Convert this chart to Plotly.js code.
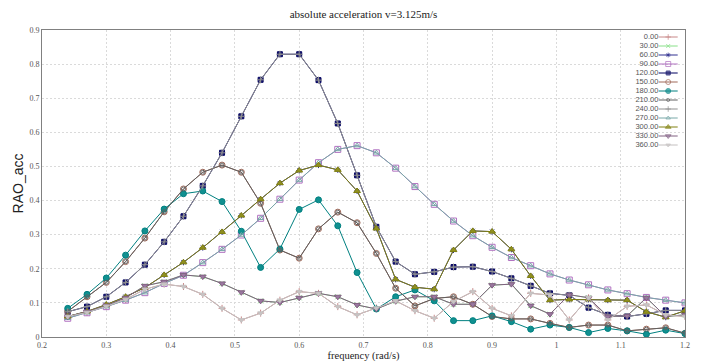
<!DOCTYPE html>
<html><head><meta charset="utf-8">
<script src="https://cdn.plot.ly/plotly-3.0.1.min.js"></script>
<style>html,body{margin:0;padding:0;background:#fff}#chart{width:701px;height:363px}</style>
</head><body><div id="chart"></div>
<script>
// frequency (rad/s)
const frequency = [0.24,0.27,0.30,0.33,0.36,0.39,0.42,0.45,0.48,0.51,0.54,0.57,0.60,0.63,0.66,0.69,0.72,0.75,0.78,0.81,0.84,0.87,0.90,0.93,0.96,0.99,1.02,1.05,1.08,1.11,1.14,1.17,1.20];

// heading labels (legend)
const headingLabels = ['0.00','30.00','60.00','90.00','120.00','150.00','180.00','210.00','240.00','270.00','300.00','330.00','360.00'];

// RAO values (symmetric headings share the same response)
const rao_000_360 = [0.060,0.072,0.090,0.110,0.140,0.155,0.148,0.125,0.084,0.050,0.070,0.108,0.133,0.128,0.089,0.065,0.085,0.106,0.077,0.055,0.104,0.133,0.084,0.062,0.128,0.123,0.050,0.115,0.050,0.090,0.094,0.065,0.060];
const rao_030_330 = [0.060,0.074,0.092,0.115,0.150,0.162,0.182,0.177,0.157,0.131,0.106,0.101,0.115,0.128,0.118,0.094,0.082,0.105,0.118,0.118,0.096,0.096,0.152,0.155,0.092,0.067,0.124,0.115,0.060,0.062,0.115,0.060,0.065];
const rao_060_300 = [0.060,0.075,0.095,0.118,0.145,0.182,0.219,0.262,0.308,0.356,0.404,0.451,0.488,0.504,0.490,0.428,0.318,0.169,0.146,0.140,0.255,0.311,0.309,0.257,0.179,0.108,0.110,0.110,0.108,0.108,0.074,0.058,0.077];
const rao_090_270 = [0.055,0.071,0.089,0.108,0.130,0.157,0.181,0.218,0.257,0.299,0.348,0.404,0.460,0.511,0.550,0.561,0.540,0.495,0.441,0.389,0.340,0.297,0.263,0.233,0.209,0.185,0.167,0.153,0.138,0.127,0.116,0.108,0.100];
const rao_120_240 = [0.074,0.089,0.118,0.160,0.212,0.279,0.354,0.443,0.540,0.647,0.754,0.829,0.829,0.753,0.626,0.474,0.323,0.221,0.184,0.191,0.205,0.206,0.192,0.172,0.150,0.128,0.122,0.086,0.065,0.060,0.068,0.078,0.078];
const rao_150_210 = [0.075,0.118,0.160,0.221,0.290,0.367,0.434,0.483,0.504,0.483,0.392,0.255,0.231,0.317,0.366,0.335,0.245,0.143,0.091,0.113,0.118,0.096,0.060,0.053,0.053,0.040,0.028,0.035,0.035,0.018,0.023,0.027,0.011];
const rao_180 = [0.084,0.125,0.173,0.240,0.311,0.375,0.420,0.428,0.397,0.310,0.204,0.258,0.374,0.402,0.326,0.189,0.082,0.118,0.138,0.106,0.048,0.048,0.062,0.045,0.023,0.035,0.028,0.013,0.025,0.018,0.008,0.020,0.010];

const seriesValues = [rao_000_360, rao_030_330, rao_060_300, rao_090_270, rao_120_240, rao_150_210, rao_180, rao_150_210, rao_120_240, rao_090_270, rao_060_300, rao_030_330, rao_000_360];

// styles
const lineColors = ['#c88888','#88e088','#303090','#b070c0','#000060','#a06858','#008080','#606060','#909090','#78a8a8','#808010','#806080','#c4c0c0'];
const markerSymbols = ['cross-thin-open','x-thin-open','asterisk-open','square-open','square','circle-open','circle','circle-open','cross-thin-open','triangle-up-open','triangle-up','triangle-down','triangle-down'];
const markerSizes = [5,5,5,6,5,6,6,4,5,5,6,6,5];
const markerFills = ['#c88888','#88e088','#303090','#b070c0','#202070','#a06858','#109090','#606060','#909090','#78a8a8','#909020','#9a78a0','#c8c4c4'];

const traces = [];
headingLabels.forEach((lab, i) => {
  traces.push({
    x: frequency, y: seriesValues[i], name: lab,
    type: 'scatter', mode: 'lines+markers', showlegend: false,
    line: {color: lineColors[i], width: 1},
    marker: {symbol: markerSymbols[i], size: markerSizes[i], color: markerFills[i],
             line: {color: lineColors[i], width: 1}},
    hoverinfo: 'skip'
  });
});

// compact legend (text left of sample, drawn on hidden overlay axes)
headingLabels.forEach((lab, i) => {
  traces.push({
    x: [0, 0.5, 1], y: [-i, -i, -i], xaxis: 'x2', yaxis: 'y2',
    type: 'scatter', mode: 'lines+markers', showlegend: false, hoverinfo: 'skip',
    line: {color: lineColors[i], width: 1},
    marker: {symbol: markerSymbols[i], size: [0, markerSizes[i] - 1, 0], color: markerFills[i],
             line: {color: lineColors[i], width: 1}}
  });
});
traces.push({
  x: headingLabels.map(() => -0.02), y: headingLabels.map((_, i) => -i),
  text: headingLabels, xaxis: 'x2', yaxis: 'y2', type: 'scatter', mode: 'text',
  textposition: 'middle left', showlegend: false, hoverinfo: 'skip',
  textfont: {family: 'Liberation Sans, Arial, sans-serif', size: 7.5, color: '#555'}
});

const axisFont = {family: 'Liberation Serif, Times New Roman, serif', size: 8, color: '#555'};
const layout = {
  width: 701, height: 363,
  margin: {l: 42, r: 16, t: 30, b: 26, pad: 0},
  paper_bgcolor: '#fff', plot_bgcolor: '#fff',
  showlegend: false,
  title: {text: 'absolute acceleration v=3.125m/s', xref: 'paper', x: 0.5, xanchor: 'center',
          yref: 'container', y: 0.962, yanchor: 'middle',
          font: {family: 'Liberation Serif, Times New Roman, serif', size: 11, color: '#222'}},
  xaxis: {range: [0.2, 1.2], tick0: 0.2, dtick: 0.1, showgrid: true, gridcolor: '#dadada', griddash: '2px,2px', gridwidth: 1,
          zeroline: false, showline: true, linecolor: '#808080', linewidth: 1, mirror: true, ticks: '',
          tickfont: axisFont,
          title: {text: 'frequency (rad/s)', standoff: 3, font: {family: 'Liberation Serif, Times New Roman, serif', size: 10.5, color: '#222'}}},
  yaxis: {range: [0, 0.9], tick0: 0, dtick: 0.1, showgrid: true, gridcolor: '#dadada', griddash: '2px,2px', gridwidth: 1,
          zeroline: false, showline: true, linecolor: '#808080', linewidth: 1, mirror: true, ticks: '',
          tickfont: axisFont,
          title: {text: 'RAO_acc', standoff: 2, font: {family: 'Liberation Sans, Arial, sans-serif', size: 14, color: '#222'}}},
  xaxis2: {overlaying: 'x', range: [-32.46, 1.384], visible: false, fixedrange: true},
  yaxis2: {overlaying: 'y', range: [-33.333, 0.7778], visible: false, fixedrange: true}
};

Plotly.newPlot('chart', traces, layout, {staticPlot: true, displayModeBar: false});
</script>
</body></html>
